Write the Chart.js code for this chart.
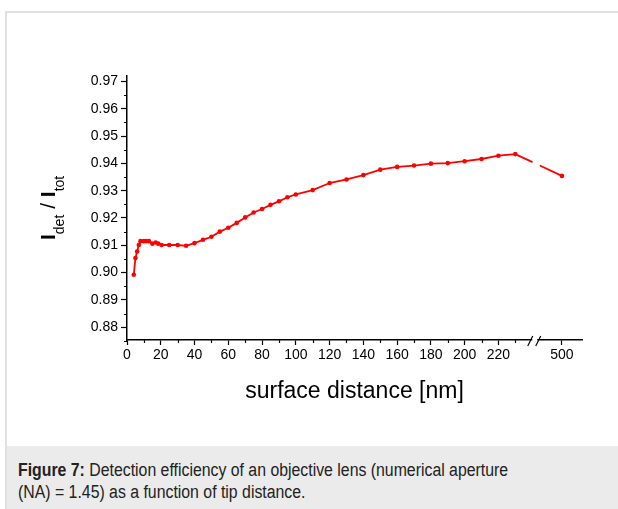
<!DOCTYPE html>
<html><head><meta charset="utf-8">
<script src="https://cdn.jsdelivr.net/npm/chart.js@4"></script>
<style>
html,body{margin:0;padding:0;background:#fff;width:618px;height:509px;overflow:hidden;font-family:"Liberation Sans",Arial,sans-serif;}
#frame{position:absolute;left:5px;top:11px;width:613px;height:498px;border-top:2px solid #e0e0e0;border-left:2px solid #e0e0e0;box-sizing:border-box;}
#wrap{position:absolute;left:0;top:0;width:618px;height:446px;}
#cap{position:absolute;left:7px;top:446px;width:611px;height:63px;background:#ebebeb;color:#222;font-size:18px;line-height:22px;}
#capin{position:absolute;left:11px;top:13px;white-space:nowrap;transform:scaleX(0.88);transform-origin:0 0;}
</style></head>
<body>
<div id="frame"></div>
<div id="wrap"><canvas id="c" width="618" height="446"></canvas></div>
<div id="cap"><div id="capin"><b>Figure 7:</b> Detection efficiency of an objective lens (numerical aperture<br>(NA) = 1.45) as a function of tip distance.</div></div>
<script>
const distance = [4,5,6,7,8,10,11.5,13,15,17,18.5,20.5,25,30,35,40,45,50,55,60,65,70,75,80,85,90,95,100,110,120,130,140,150,160,170,180,190,200,210,220,230,500];
const efficiency = [0.8992,0.9053,0.9077,0.9101,0.9115,0.9115,0.9115,0.9115,0.9106,0.9110,0.9106,0.9101,0.9101,0.9101,0.9098,0.9108,0.9120,0.9131,0.9150,0.9164,0.9182,0.9202,0.9220,0.9233,0.9248,0.9261,0.9276,0.9286,0.9302,0.9328,0.9341,0.9357,0.9377,0.9387,0.9392,0.9399,0.9401,0.9408,0.9416,0.9428,0.9434,0.9354];
const xTicks = [0,20,40,60,80,100,120,140,160,180,200,220,500];
const xMinor = [10,30,50,70,90,110,130,150,170,190,210,230];
const yTicks = [0.88,0.89,0.90,0.91,0.92,0.93,0.94,0.95,0.96,0.97];
const yMinor = [0.875,0.885,0.895,0.905,0.915,0.925,0.935,0.945,0.955,0.965];

// axis break: values above breakAt are shifted down by breakShift
const breakAt = 240, breakShift = 242.4, breakMark = 241.5;
const toAxis = d => d > breakAt ? d - breakShift : d;

const FONT = '"Liberation Sans", Arial, sans-serif';
Chart.defaults.font.family = FONT;
Chart.defaults.color = '#000';

const decor = {
  id: 'decor',
  afterDraw(chart) {
    const {ctx, scales: {x, y}, chartArea: a} = chart;
    ctx.save();
    ctx.strokeStyle = '#000';
    ctx.lineWidth = 1.2;
    ctx.beginPath();
    xMinor.forEach(v => {
      const px = Math.round(x.getPixelForValue(toAxis(v))) + 0.5;
      ctx.moveTo(px, a.bottom); ctx.lineTo(px, a.bottom + 3);
    });
    yMinor.forEach(v => {
      const py = Math.round(y.getPixelForValue(v)) + 0.5;
      ctx.moveTo(a.left, py); ctx.lineTo(a.left - 3, py);
    });
    ctx.stroke();
    // axis break
    const bx = x.getPixelForValue(breakMark);
    ctx.fillStyle = '#fff';
    ctx.fillRect(bx - 2.5, a.bottom - 2, 5, 4);
    ctx.beginPath();
    ctx.moveTo(bx - 7, a.bottom + 6); ctx.lineTo(bx - 2, a.bottom - 4);
    ctx.moveTo(bx + 1, a.bottom + 6); ctx.lineTo(bx + 6, a.bottom - 4);
    ctx.stroke();
    // y title with subscripts
    ctx.translate(55, 240);
    ctx.rotate(-Math.PI / 2);
    ctx.fillStyle = '#000';
    ctx.textBaseline = 'alphabetic';
    ctx.textAlign = 'left';
    let cx = 0;
    const part = (t, font, dy) => { ctx.font = font; ctx.fillText(t, cx, dy); cx += ctx.measureText(t).width; };
    part('I', 'bold 21px ' + FONT, 0);
    part('det', '14px ' + FONT, 9);
    part(' / ', '21px ' + FONT, 0);
    part('I', 'bold 21px ' + FONT, 0);
    part('tot', '14px ' + FONT, 9);
    ctx.restore();
  }
};

new Chart(document.getElementById('c'), {
  type: 'line',
  data: {
    datasets: [{
      data: distance.map((d, i) => ({x: toAxis(d), y: efficiency[i]})),
      borderColor: '#ff0000',
      backgroundColor: '#ff0000',
      borderWidth: 1.8,
      pointRadius: 2.3,
      pointBorderWidth: 0,
      pointBackgroundColor: '#ff0000',
      tension: 0,
      segment: {
        borderDash: c => c.p1DataIndex === distance.length - 1 ? [19, 8, 60] : undefined
      }
    }]
  },
  plugins: [decor],
  options: {
    responsive: false,
    animation: false,
    events: [],
    layout: {padding: {top: 76, right: 36, left: 0, bottom: 0}},
    plugins: {legend: {display: false}, tooltip: {enabled: false}},
    scales: {
      x: {
        type: 'linear', min: 0, max: 269.5,
        afterBuildTicks: s => { s.ticks = xTicks.map(v => ({value: toAxis(v)})); },
        afterFit: s => { s.height = 106; },
        ticks: {autoSkip: false, maxRotation: 0, color: '#000', font: {size: 14}, padding: 2,
          callback: v => v > breakAt ? String(Math.round(v + breakShift)) : String(v)},
        grid: {drawOnChartArea: false, drawTicks: true, tickLength: 5, tickColor: '#000', tickWidth: 1.2},
        border: {display: true, color: '#000', width: 1.5},
        title: {display: true, text: 'surface distance [nm]', color: '#000', font: {size: 23}, padding: {top: 0, bottom: 41}}
      },
      y: {
        type: 'linear', min: 0.8753, max: 0.972,
        afterBuildTicks: s => { s.ticks = yTicks.map(v => ({value: v})); },
        afterFit: s => { s.width = 127; },
        ticks: {autoSkip: false, color: '#000', font: {size: 14}, padding: 3,
          callback: v => v.toFixed(2)},
        grid: {drawOnChartArea: false, drawTicks: true, tickLength: 6, tickColor: '#000', tickWidth: 1.2},
        border: {display: true, color: '#000', width: 1.5}
      }
    }
  }
});
</script>
</body></html>
